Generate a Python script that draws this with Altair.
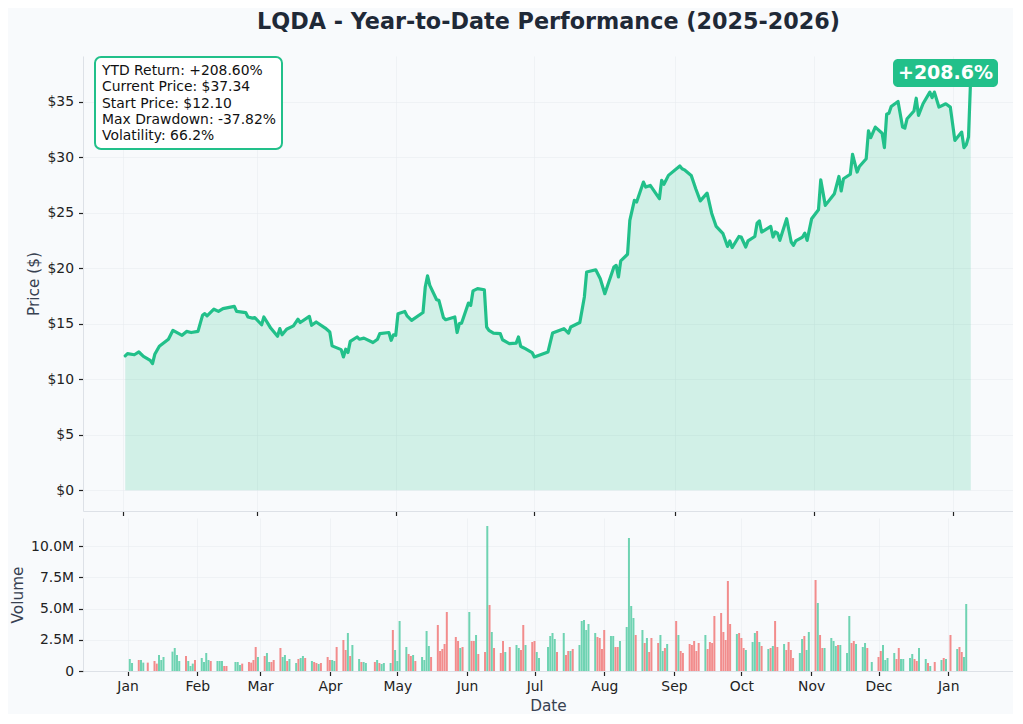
import altair as alt
import pandas as pd

TITLE = "LQDA - Year-to-Date Performance (2025-2026)"
GREEN = "#22c08a"
VOL_GREEN = "#6fd3b2"
VOL_RED = "#f28c8c"
FONT = "DejaVu Sans"

# ---- closing price (vertices) ----
price_dates = [
    "2025-01-02", "2025-01-03", "2025-01-06", "2025-01-08", "2025-01-10", "2025-01-13", "2025-01-14",
    "2025-01-15", "2025-01-17", "2025-01-21", "2025-01-23", "2025-01-27", "2025-01-29", "2025-01-31",
    "2025-02-03", "2025-02-05", "2025-02-06", "2025-02-07", "2025-02-10", "2025-02-12", "2025-02-14",
    "2025-02-19", "2025-02-20", "2025-02-24", "2025-02-25", "2025-02-27", "2025-02-28",
    "2025-03-03", "2025-03-04", "2025-03-06", "2025-03-07", "2025-03-10", "2025-03-11", "2025-03-12",
    "2025-03-14", "2025-03-17", "2025-03-19", "2025-03-20", "2025-03-24", "2025-03-25", "2025-03-27",
    "2025-03-31", "2025-04-02", "2025-04-03", "2025-04-07", "2025-04-08", "2025-04-09", "2025-04-10",
    "2025-04-11", "2025-04-14", "2025-04-15", "2025-04-17", "2025-04-21", "2025-04-23", "2025-04-24",
    "2025-04-28", "2025-04-29", "2025-04-30", "2025-05-01", "2025-05-02", "2025-05-05", "2025-05-06",
    "2025-05-08", "2025-05-13", "2025-05-14", "2025-05-15", "2025-05-16", "2025-05-19", "2025-05-20",
    "2025-05-22", "2025-05-23", "2025-05-27", "2025-05-28", "2025-05-29", "2025-05-30",
    "2025-06-02", "2025-06-03", "2025-06-04", "2025-06-06", "2025-06-09", "2025-06-10", "2025-06-11",
    "2025-06-13", "2025-06-16", "2025-06-17", "2025-06-20", "2025-06-23", "2025-06-24", "2025-06-25",
    "2025-06-26", "2025-06-27", "2025-06-30", "2025-07-01", "2025-07-07", "2025-07-09", "2025-07-14",
    "2025-07-16", "2025-07-17", "2025-07-21", "2025-07-23", "2025-07-24", "2025-07-28", "2025-07-30",
    "2025-08-01", "2025-08-05", "2025-08-06", "2025-08-07", "2025-08-08", "2025-08-11", "2025-08-12",
    "2025-08-14", "2025-08-15", "2025-08-18", "2025-08-19", "2025-08-21", "2025-08-25", "2025-08-26",
    "2025-08-27", "2025-08-29", "2025-09-03", "2025-09-04", "2025-09-05", "2025-09-08", "2025-09-09",
    "2025-09-10", "2025-09-12", "2025-09-15", "2025-09-17", "2025-09-19", "2025-09-22", "2025-09-24",
    "2025-09-25", "2025-09-26", "2025-09-29", "2025-09-30", "2025-10-02", "2025-10-03", "2025-10-06",
    "2025-10-07", "2025-10-08", "2025-10-09", "2025-10-13", "2025-10-14", "2025-10-15", "2025-10-16",
    "2025-10-17", "2025-10-20", "2025-10-22", "2025-10-23", "2025-10-24", "2025-10-27", "2025-10-28",
    "2025-10-29", "2025-10-31", "2025-11-03", "2025-11-04", "2025-11-06", "2025-11-10", "2025-11-12",
    "2025-11-13", "2025-11-14", "2025-11-17", "2025-11-18", "2025-11-20", "2025-11-21", "2025-11-24",
    "2025-11-25", "2025-11-26", "2025-11-28", "2025-12-01", "2025-12-02", "2025-12-03", "2025-12-04",
    "2025-12-05", "2025-12-08", "2025-12-10", "2025-12-11", "2025-12-12", "2025-12-15", "2025-12-16",
    "2025-12-17", "2025-12-19", "2025-12-22", "2025-12-23", "2025-12-24", "2025-12-26", "2025-12-29",
    "2025-12-31", "2026-01-02", "2026-01-05", "2026-01-06", "2026-01-07", "2026-01-08", "2026-01-09",
]
price_values = [
    12.10, 12.30, 12.20, 12.45, 12.06, 11.70, 11.40,
    12.24, 12.96, 13.60, 14.40, 13.95, 14.30, 14.20,
    14.30, 15.75, 15.90, 15.70, 16.30, 16.10, 16.35,
    16.55, 16.10, 16.00, 15.60, 15.50, 15.55,
    14.90, 15.60, 14.94, 14.60, 13.86, 14.55, 14.00,
    14.50, 14.80, 15.40, 15.10, 15.65, 14.85, 15.15,
    14.60, 14.25, 13.00, 12.66, 12.00, 12.70, 12.40,
    13.40, 13.80, 13.60, 13.70, 13.30, 13.60, 14.10,
    14.20, 13.50, 14.00, 13.95, 15.90, 16.10, 15.70,
    15.30, 16.00, 18.30, 19.30, 18.45, 17.15, 17.10,
    15.55, 15.35, 15.60, 14.20, 15.00, 15.05,
    16.85, 16.65, 17.95, 18.15, 18.05, 14.70, 14.40,
    14.15, 14.10, 13.55, 13.20, 13.25, 13.80, 12.96,
    12.85, 12.75, 12.40, 12.00, 12.45, 14.15, 14.55,
    14.15, 14.70, 15.10, 17.40, 19.65, 19.85, 19.05,
    17.70, 20.10, 20.25, 19.20, 20.65, 21.25, 24.30,
    26.10, 25.95, 27.75, 27.30, 27.45, 26.25, 27.90,
    27.55, 28.35, 29.20, 28.95, 28.85, 28.35, 27.75,
    27.15, 26.05, 26.75, 24.95, 23.75, 23.10, 21.95,
    22.45, 21.85, 22.85, 22.80, 21.90, 22.45, 22.85,
    24.05, 24.25, 23.25, 23.75, 22.80, 23.25, 23.15,
    22.50, 24.45, 22.35, 22.05, 22.45, 22.80, 23.15,
    22.50, 24.45, 25.25, 27.95, 25.65, 26.70, 28.25,
    26.95, 28.05, 28.45, 30.25, 28.65, 29.15, 29.85,
    32.35, 31.75, 32.70, 32.15, 30.85, 33.85, 33.95,
    34.55, 35.00, 32.70, 32.60, 33.45, 34.15, 35.30,
    33.75, 34.80, 35.85, 35.35, 35.85, 34.50, 34.80,
    34.50, 31.50, 32.25, 30.85, 31.10, 31.80, 37.34,
]

# ---- daily volume (millions of shares), one value per trading day ----
vol_jan = [0.96, 0.64, 0.88, 0.88, 0.67, 0.67, 0.80, 0.59, 1.28, 0.88, 1.12, 1.55, 1.84, 1.28, 0.80, 1.20, 0.80, 0.40, 0.59, 0.88]
vol_feb = [1.04, 0.72, 1.44, 0.88, 0.80, 0.80, 0.80, 0.80, 0.40, 0.40, 0.72, 0.72, 0.48, 0.59, 0.72, 0.67, 0.88, 1.92, 1.12]
vol_mar = [1.20, 1.44, 0.72, 0.72, 0.88, 1.84, 1.12, 1.28, 0.80, 0.96, 0.64, 0.96, 1.04, 1.20, 1.04, 0.80, 0.72, 0.64, 0.56, 0.64, 1.12]
vol_apr = [0.88, 0.88, 0.80, 1.92, 2.48, 1.68, 3.04, 1.20, 2.08, 0.96, 0.72, 0.72, 0.64, 0.72, 0.88, 0.64, 0.56, 0.64, 0.64, 3.28, 1.68]
vol_may = [0.80, 4.00, 1.92, 1.36, 1.20, 1.28, 0.80, 1.12, 0.88, 3.20, 2.00, 1.12, 3.68, 1.60, 1.76, 2.16, 4.72, 2.72, 2.40, 1.84, 1.92]
vol_jun = [4.72, 2.40, 2.40, 2.88, 1.36, 1.52, 11.60, 5.28, 3.12, 1.84, 1.44, 2.40, 1.52, 1.92, 2.08, 1.84, 1.68, 3.68, 2.08, 2.32]
vol_jul = [2.40, 1.52, 1.04, 1.92, 2.80, 3.04, 2.56, 1.52, 3.04, 1.28, 1.60, 1.60, 1.76, 2.08, 4.00, 4.08, 3.28, 3.76, 3.04, 2.72, 2.64, 1.76]
vol_aug = [3.28, 2.80, 2.80, 1.92, 1.92, 2.40, 3.52, 10.64, 5.20, 4.24, 2.88, 3.28, 2.24, 2.64, 1.52, 2.64, 2.24, 2.88, 1.60, 1.84, 2.16]
vol_sep = [4.00, 2.88, 1.60, 1.44, 2.16, 2.08, 2.40, 1.60, 2.24, 2.88, 1.76, 2.32, 2.24, 4.40, 4.64, 3.12, 2.48, 7.20, 3.76, 2.96, 3.04]
vol_oct = [2.64, 1.84, 1.68, 2.32, 3.04, 3.20, 2.32, 2.00, 1.76, 1.84, 2.00, 4.00, 1.92, 2.16, 1.68, 2.32, 1.68, 1.04, 1.44, 2.56, 2.80, 1.68, 3.12]
vol_nov = [7.28, 5.44, 2.88, 1.84, 1.84, 2.64, 2.40, 2.00, 2.08, 2.08, 1.44, 4.40, 2.24, 2.40, 2.16, 1.92, 2.24, 1.84, 0.72]
vol_dec = [1.12, 1.60, 2.08, 0.88, 1.04, 1.44, 0.96, 1.84, 0.96, 0.96, 1.04, 1.36, 0.96, 0.80, 1.84, 0.96, 0.64, 0.40, 0.72, 0.88, 1.04, 0.96]
vol_jan26 = [2.88, 1.76, 1.92, 1.52, 1.12, 5.36]

# up (g) / down (r) day for each volume bar
dir_months = [
    "ggrggrrrgggggggrgggr", "ggggrgggrrgggrrrrrg", "rggrrrggrggrggrgrrgrr",
    "rggrrrgrggrggrgrgggrg", "gggrrgrggggrrrrrrrrgr", "grrgrrgrgrrrgrggrrgr",
    "rggggggrgrrgrggggggrrr", "rggrrgggggrgrgrrrggrg", "rgrrrrrrrgrrrrrrrrrgr",
    "rrgggrgrgrgrrgrrrrggrgg", "rgrrggggrgggrrgggrg", "rrggggrrggggrrggrgrgrg",
    "rgrrgg",
]

market_holidays = ["2025-01-09", "2025-01-20", "2025-02-17", "2025-04-18", "2025-05-26", "2025-06-19",
                   "2025-07-04", "2025-09-01", "2025-11-27", "2025-12-25", "2026-01-01"]

stats_lines = [
    "YTD Return: +208.60%",
    "Current Price: $37.34",
    "Start Price: $12.10",
    "Max Drawdown: -37.82%",
    "Volatility: 66.2%",
]
badge_text = "+208.6%"

# ---- tables ----
price_df = pd.DataFrame({"date": [d + "T00:00:00" for d in price_dates], "price": price_values})

volumes = (vol_jan + vol_feb + vol_mar + vol_apr + vol_may + vol_jun + vol_jul + vol_aug
           + vol_sep + vol_oct + vol_nov + vol_dec + vol_jan26)
directions = list("".join(dir_months))
trading_days = [d.strftime("%Y-%m-%dT00:00:00") for d in pd.bdate_range("2025-01-02", "2026-01-09")
                if d.strftime("%Y-%m-%d") not in market_holidays]
n = min(len(volumes), len(directions), len(trading_days))
vol_df = pd.DataFrame({"date": trading_days[:n], "vol": volumes[:n], "dir": directions[:n]})

x_domain = [alt.DateTime(year=2024, month=12, date=14, hours=10),
            alt.DateTime(year=2026, month=1, date=27, hours=14)]
x_scale = alt.Scale(domain=x_domain)

PW = 930
TOP_H = 455
VOL_H = 153

# ---- price panel ----
base = alt.Chart(price_df)
x_top = alt.X("date:T", scale=x_scale,
              axis=alt.Axis(title=None, labels=False, tickCount=alt.TimeIntervalStep(interval="month", step=2)))
y_top = alt.Y("price:Q", scale=alt.Scale(domain=[-1.87, 39.1], nice=False, zero=False),
              axis=alt.Axis(values=[0, 5, 10, 15, 20, 25, 30, 35], labelExpr="'$' + datum.value",
                            title="Price ($)", titleX=-50, titleBaseline="middle", titleAnchor="middle"))

area = base.mark_area(color=GREEN, opacity=0.18).encode(x=x_top, y=y_top, y2=alt.datum(0))
line = base.mark_line(color=GREEN, strokeWidth=3.2, strokeJoin="round", strokeCap="round").encode(x=x_top, y=y_top)

one = pd.DataFrame({"k": [0]})
stats_box = alt.Chart(one).mark_rect(fill="white", stroke=GREEN, strokeWidth=2, cornerRadius=6).encode(
    x=alt.value(12), x2=alt.value(199), y=alt.value(1), y2=alt.value(93))
stats_text = alt.Chart(one).mark_text(align="left", baseline="top", font=FONT, fontSize=13.9,
                                       lineHeight=16.25, color="#111111").encode(
    x=alt.value(19), y=alt.value(8), text=alt.value(stats_lines))
badge_box = alt.Chart(one).mark_rect(fill=GREEN, cornerRadius=5).encode(
    x=alt.value(810), x2=alt.value(915), y=alt.value(3), y2=alt.value(31))
badge = alt.Chart(one).mark_text(align="center", baseline="middle", font=FONT, fontSize=19,
                                 fontWeight="bold", color="white").encode(
    x=alt.value(862.5), y=alt.value(17), text=alt.value(badge_text))

top = alt.layer(area, line, stats_box, stats_text, badge_box, badge).properties(width=PW, height=TOP_H)

# ---- volume panel ----
bottom = alt.Chart(vol_df).mark_bar(size=2).encode(
    x=alt.X("date:T", scale=x_scale,
            axis=alt.Axis(title="Date", format="%b", tickCount=alt.TimeIntervalStep(interval="month", step=1),
                          labelPadding=4, titlePadding=5)),
    y=alt.Y("vol:Q", scale=alt.Scale(domain=[0, 12.24], nice=False),
            axis=alt.Axis(values=[0, 2.5, 5, 7.5, 10],
                          labelExpr="datum.value == 0 ? '0' : format(datum.value, '.1f') + 'M'",
                          title="Volume", titleX=-66, titleBaseline="middle", titleAnchor="middle")),
    color=alt.Color("dir:N", scale=alt.Scale(domain=["g", "r"], range=[VOL_GREEN, VOL_RED]), legend=None),
).properties(width=PW, height=VOL_H)

chart = alt.vconcat(top, bottom, spacing=1).properties(
    title=alt.TitleParams(TITLE, font=FONT, fontSize=22.3, fontWeight="bold", color="#1f2937",
                          anchor="middle", offset=23, dx=37),
    background="#f8fafc",
    padding={"left": 2, "top": 2, "right": 0, "bottom": 0},
).configure_view(stroke=None).configure_axis(
    labelFont=FONT, titleFont=FONT, labelFontSize=13.9, titleFontSize=15.3,
    labelColor="#222222", titleColor="#374151", titleFontWeight="normal",
    domainColor="#dde1e7", domainWidth=1, tickColor="#222222", tickSize=4.5, tickWidth=1.2,
    labelPadding=5, gridColor="#e6e9ee", gridOpacity=0.6, gridWidth=0.8,
)

chart.save("out.html", embed_options={"renderer": "svg", "actions": False})
